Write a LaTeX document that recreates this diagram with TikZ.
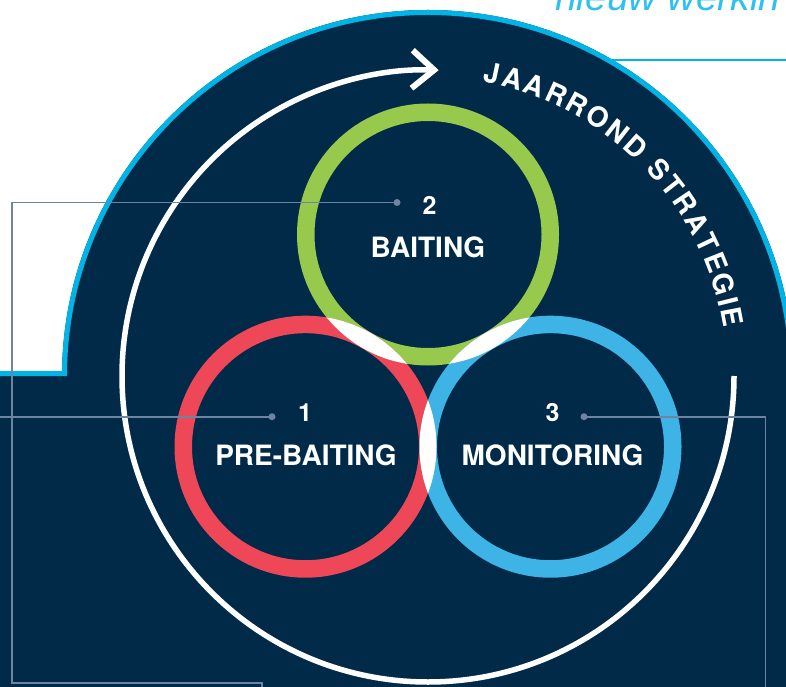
\documentclass[tikz,border=0pt]{standalone}
\usepackage{fontspec}
\setmainfont{TeX Gyre Heros}
\newfontfamily\headfont{Liberation Sans}
\usetikzlibrary{arrows.meta,decorations.text}

\definecolor{navy}{HTML}{002A48}
\definecolor{bordercyan}{HTML}{00B4E6}
\definecolor{headcyan}{HTML}{2EC0F0}
\definecolor{ringgreen}{HTML}{97C94C}
\definecolor{ringred}{HTML}{EE4757}
\definecolor{ringblue}{HTML}{3DB4E5}
\definecolor{leader}{HTML}{6E84A2}

\begin{document}
\begin{tikzpicture}[x=1pt,y=1pt,
  ring/.style={line width=17.5pt},
  leaderline/.style={draw=leader,line width=1.6pt},
  dot/.style={fill=leader},
  numlabel/.style={text=white,inner sep=0,font=\bfseries\fontsize{25}{25}\selectfont},
  steplabel/.style={text=white,inner sep=0,font=\bfseries\fontsize{28}{28}\selectfont}]
  \useasboundingbox (0,0) rectangle (786,686);
  \clip (0,0) rectangle (786,686);

  % background
  \coordinate (c) at (428,310);
  \fill[navy] (c) circle[radius=366];
  \fill[navy] (-5,-5) rectangle (791,310);
  \draw[bordercyan,line width=2.5pt] (609,626) -- (800,626);
  \draw[bordercyan,line width=5pt] (-5,312.5) -- (64.5,312.5) -- (64.5,310)
    arc[start angle=180,end angle=0,radius=363.5];
  \node[anchor=base west,inner sep=0,text=headcyan,
    font=\headfont\itshape\fontsize{39}{39}\selectfont] (head) at (555,675) {nieuw werkin};

  % cycle arrow and its text
  \begin{scope}[shift={(c)}]
    \draw[white,line width=5.5pt,-{Straight Barb[sharp,length=22pt,width=38pt,line width=6pt]}]
      (306,0) arc[start angle=0,end angle=-272,radius=306];
    \path[decorate,decoration={text along path,text align=fit to path,text color=white,
      text={|\bfseries\fontsize{28}{28}\selectfont|JAARROND STRATEGIE}}]
      (79.5:299.5) arc[start angle=79.5,end angle=9.2,radius=299.5];
  \end{scope}

  % rings
  \coordinate (g) at (428,451.5);
  \coordinate (r) at (305.5,239.3);
  \coordinate (b) at (550.5,239.3);
  \draw[ringgreen,ring] (g) circle[radius=122.25];
  \draw[ringred,ring] (r) circle[radius=122.25];
  \draw[ringblue,ring] (b) circle[radius=122.25];
  \begin{scope}
    \clip (r) circle[radius=131];
    \fill[white] (g) circle[radius=131];
    \fill[white] (b) circle[radius=131];
  \end{scope}
  \begin{scope}
    \clip (g) circle[radius=131];
    \fill[white] (b) circle[radius=131];
  \end{scope}

  % leader lines
  \coordinate (d1) at (272,269.3);
  \coordinate (d2) at (397,483.5);
  \coordinate (d3) at (584,269.3);
  \coordinate (e1) at (-5,269.3);
  \coordinate (e2) at (262,-5);
  \coordinate (e3) at (765.5,-5);
  \draw[leaderline] (d1) -- (e1);
  \draw[leaderline] (d2) -| (12,3) -| (e2);
  \draw[leaderline] (d3) -| (e3);
  \fill[dot] (d1) circle[radius=3.5];
  \fill[dot] (d2) circle[radius=3.5];
  \fill[dot] (d3) circle[radius=3.5];

  % labels
  \node[numlabel] (n1) at (305,273.5) {1};
  \node[steplabel] (s1) at (306,231) {PRE-BAITING};
  \node[numlabel] (n2) at (429.5,481) {2};
  \node[steplabel] (s2) at (428,439) {BAITING};
  \node[numlabel] (n3) at (552.5,273.5) {3};
  \node[steplabel] (s3) at (552.5,231) {MONITORING};
\end{tikzpicture}
\end{document}
